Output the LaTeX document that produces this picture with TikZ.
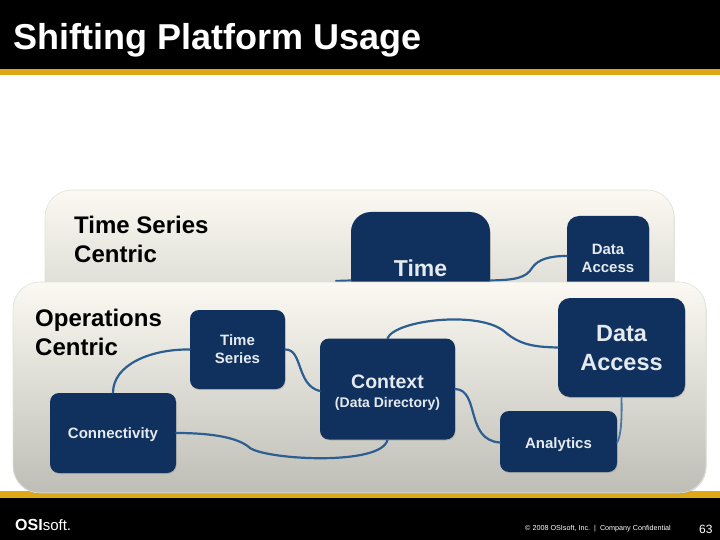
\documentclass[tikz,border=0pt]{standalone}
\usepackage{fontspec}
\setmainfont{Liberation Sans}
\usetikzlibrary{shadows}
\definecolor{navy}{HTML}{10305E}
\definecolor{wire}{HTML}{2C5E92}
\definecolor{wirelight}{HTML}{4A78A4}
\definecolor{gold}{HTML}{DFA716}
\definecolor{boxtext}{HTML}{E4EAEE}
\definecolor{cream}{HTML}{FBF9F2}
\definecolor{creammid}{HTML}{EDEBE3}
\definecolor{panelgrey}{HTML}{BEBEB6}
\tikzset{
  bluebox/.style={draw=none,fill=navy,rounded corners=9pt,align=center,text=boxtext,inner sep=0pt,
    font=\fontsize{15}{18}\selectfont\bfseries,
    drop shadow={shadow xshift=0.6pt,shadow yshift=-1pt,opacity=.35}},
  panel/.style={rounded corners=27pt,top color=cream,middle color=creammid,bottom color=panelgrey,draw=black!12,line width=.6pt,
    drop shadow={shadow xshift=0.5pt,shadow yshift=-1pt,opacity=.3}},
  wirelink/.style={draw=wire,line width=2.2pt,line cap=round},
  heading/.style={font=\fontsize{24}{29}\selectfont\bfseries,align=left,text=black,inner sep=0pt},
  foot/.style={text=white,inner sep=0pt}
}
\begin{document}
\begin{tikzpicture}[x=1pt,y=-1pt]
\useasboundingbox (0,0) rectangle (720,540);
\fill[white] (0,0) rectangle (720,540);
% header and footer
\fill[black] (0,0) rectangle (720,69);
\fill[gold] (0,69) rectangle (720,75);
\fill[gold] (0,491) rectangle (720,498);
\fill[black] (0,498) rectangle (720,540);
\node[anchor=base west,text=white,inner sep=0pt,font=\fontsize{36}{40}\selectfont\bfseries] (title) at (13,50) {Shifting Platform Usage};
% back panel
\path[panel] (45,190) rectangle (674,400);
\node[heading,anchor=north west] (backlabel) at (74,216) {Time Series\\Centric};
\node[bluebox,minimum width=139pt,minimum height=113pt,rounded corners=20pt,font=\fontsize{23}{27}\selectfont\bfseries] (time) at (420.5,268.5) {Time};
\node[bluebox,minimum width=82pt,minimum height=84pt,rounded corners=12pt] (daback) at (608,258) {Data\\Access};
\coordinate (stub) at (336,281);
\draw[wirelink] (stub) -- ([yshift=-12pt]time.west);
\draw[wirelink] ([yshift=-12pt]time.east) .. controls (515,280) and (526,278) .. (532,268) .. controls (538,259) and (550,256) .. ([yshift=2pt]daback.west);
% front panel
\path[panel] (13,282) rectangle (706,493);
\node[heading,anchor=north west] (frontlabel) at (35,309) {Operations\\Centric};
\node[bluebox,minimum width=95pt,minimum height=79pt] (ts) at (237.5,349.5) {Time\\Series};
\node[bluebox,minimum width=126pt,minimum height=80pt] (conn) at (113,433) {\rule{0pt}{15pt}Connectivity};
\node[bluebox,minimum width=135pt,minimum height=101pt,font=\fontsize{14}{17}\selectfont\bfseries] (ctx) at (387.5,389) {\rule{0pt}{20pt}{\fontsize{19.5}{22}\selectfont Context}\\[2pt](Data Directory)};
\node[bluebox,minimum width=127pt,minimum height=99pt,rounded corners=12pt,font=\fontsize{23.5}{29}\selectfont\bfseries] (da) at (621.5,347.5) {\rule{0pt}{17pt}Data\\Access};
\node[bluebox,minimum width=117pt,minimum height=61pt] (an) at (558.5,441.5) {\rule{0pt}{18pt}Analytics};
% connectors
\draw[wirelink] (ts.west) .. controls (150,349) and (113,365) .. (conn.north);
\draw[wirelink] (ts.east) .. controls (303,349) and (296,385) .. ([yshift=-2pt]ctx.west);
\draw[wirelink] (conn.east) .. controls (205,433) and (237,436) .. (250,448) .. controls (268,460) and (382,466) .. (ctx.south);
\draw[wirelink] (ctx.north) .. controls (395,320) and (480,310) .. (505,332) .. controls (520,345) and (535,347) .. (da.west);
\draw[wirelink] (ctx.east) .. controls (480,390) and (465,440) .. ([yshift=-1pt]an.west);
\draw[wirelink,draw=wirelight,line width=1.8pt] (da.south) .. controls (622,420) and (621,435) .. ([yshift=-1pt]an.east);
% footer text
\node[foot,anchor=base west,font=\fontsize{16}{18}\selectfont\bfseries] (logo) at (15,530) {OSI\fontsize{15}{16}\selectfont\mdseries soft.};
\node[foot,anchor=base west,font=\fontsize{7.2}{8}\selectfont] (copy) at (525,530) {© 2008 OSIsoft, Inc.\ \ |\ \ Company Confidential};
\node[foot,anchor=base west,font=\fontsize{12}{14}\selectfont] (page) at (699,533) {63};
\end{tikzpicture}
\end{document}
